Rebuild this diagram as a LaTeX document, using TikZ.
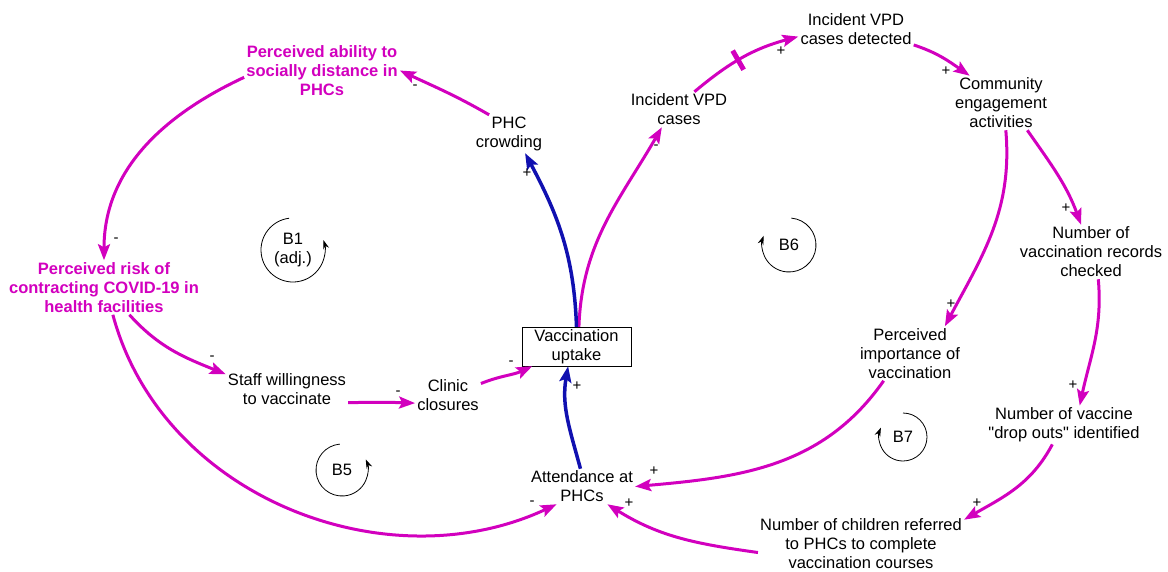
\documentclass[tikz,border=0pt]{standalone}
\usepackage{fontspec}
\setmainfont{Liberation Sans}[Ligatures=TeXOff]
\usetikzlibrary{arrows.meta}
\definecolor{cldmag}{RGB}{210,0,190}
\definecolor{cldblue}{RGB}{16,16,176}

\begin{document}
\begin{tikzpicture}[x=1pt, y=1pt,
    every node/.style={align=center, inner sep=2pt, font=\fontsize{16.5}{19}\selectfont},
    keyvar/.style={text=cldmag, font=\fontsize{16.5}{19}\selectfont\bfseries},
    link/.style={cldmag, line width=3pt, -{Stealth[length=16pt,width=12pt,inset=3pt]}},
    blink/.style={link, cldblue, line width=3.5pt},
    sgn/.style={inner sep=0pt, font=\fontsize{15}{15}\selectfont},
    loopc/.style={black, line width=0.8pt, -{Stealth[length=9pt,width=6pt]}},
    delaymark/.style={fill=cldmag, minimum width=5pt, minimum height=22pt, inner sep=0pt}]
  \useasboundingbox (0,0) rectangle (1168,-571);

  % Left side variables
  \node[keyvar] (ability) at (322,-70.5) {Perceived ability to\\socially distance in\\PHCs};
  \node (crowd) at (509,-134) {PHC\\crowding};
  \node[keyvar] (risk) at (104,-287.5) {Perceived risk of\\contracting COVID-19 in\\health facilities};
  \node (staff) at (287,-389.5) {Staff willingness\\to vaccinate};
  \node (clinic) at (448,-395.5) {Clinic\\closures};
  \node[draw, minimum width=109pt, minimum height=39pt, inner sep=0pt] (uptake) at (576.5,-346.5) {Vaccination\\uptake};
  \node (att) at (582,-486.5) {Attendance at\\PHCs};

  % Right side variables
  \node (vpd) at (679,-109.5) {Incident VPD\\cases};
  \node (detect) at (856,-29.5) {Incident VPD\\cases detected};
  \node (comm) at (1001,-103) {Community\\engagement\\activities};
  \node (records) at (1091,-252) {Number of\\vaccination records\\checked};
  \node (import) at (910,-353.5) {Perceived\\importance of\\vaccination};
  \node (drop) at (1064,-425) {Number of vaccine\\"drop outs" identified};
  \node (child) at (861,-543.5) {Number of children referred\\to PHCs to complete\\vaccination courses};

  % Loop markers
  \node (b1) at (293,-250) {B1\\(adj.)};
  \draw[loopc] ([shift={(97:32)}]b1.center) arc[start angle=97, end angle=378, radius=32];
  \node (b5) at (342,-470) {B5};
  \draw[loopc] ([shift={(95:26)}]b5.center) arc[start angle=95, end angle=384, radius=26];
  \node (b6) at (789,-245) {B6};
  \draw[loopc] ([shift={(85:27)}]b6.center) arc[start angle=85, end angle=-200, radius=27];
  \node (b7) at (903,-437) {B7};
  \draw[loopc] ([shift={(90:24)}]b7.center) arc[start angle=90, end angle=-203, radius=24];

  % Links
  \draw[link] (crowd.136) to[out=150,in=-25] (ability.east);
  \draw[link] (ability.185) to[out=205,in=90] (risk.north);
  \draw[link] (uptake.83) to[out=88,in=-120] (vpd.-134);
  \draw[blink] (uptake.north) to[out=92,in=-62] (crowd.-50);
  \draw[link] (vpd.49) to[out=40,in=195] node[delaymark, sloped, pos=0.45] (dly) {} (detect.187);
  \draw[link] (detect.-15) to[out=-18,in=145] (comm.139);
  \draw[link] (comm.-80) to[out=-85,in=62] (import.38);
  \draw[link] (comm.-46) to[out=-55,in=110] (records.110);
  \draw[link] (records.-75) to[out=-85,in=78] (drop.51);
  \draw[link] (drop.-121) to[out=-118,in=30] (child.13);
  \draw[link] (child.185) to[out=172,in=-32] (att.-35);
  \draw[link] (import.-134) to[out=-125,in=5] (att.east);
  \draw[blink] (att.95) to[out=105,in=-100] (uptake.-113);
  \draw[link] (risk.-47) to[out=-48,in=158] (staff.166);
  \draw[link] (staff.-12) to[out=0,in=178] (clinic.193);
  \draw[link] (clinic.20) to[out=22,in=-155] (uptake.-156);
  \draw[link] (risk.-72) to[out=-75,in=-155] (att.-145);

  % Polarities
  \node[sgn] (s1) at (415,-87) {-};
  \node[sgn] (s2) at (116,-240) {-};
  \node[sgn] (s3) at (527,-173) {+};
  \node[sgn] (s4) at (656,-147) {-};
  \node[sgn] (s5) at (781,-51) {+};
  \node[sgn] (s6) at (946,-71) {+};
  \node[sgn] (s7) at (951,-304) {+};
  \node[sgn] (s8) at (1066,-208) {+};
  \node[sgn] (s9) at (1073,-385) {+};
  \node[sgn] (s10) at (977,-503) {+};
  \node[sgn] (s11) at (629,-503) {+};
  \node[sgn] (s12) at (654,-471) {+};
  \node[sgn] (s13) at (577,-386) {+};
  \node[sgn] (s14) at (212,-358) {-};
  \node[sgn] (s15) at (398,-393) {-};
  \node[sgn] (s16) at (511,-363) {-};
  \node[sgn] (s17) at (532,-503) {-};
\end{tikzpicture}
\end{document}
